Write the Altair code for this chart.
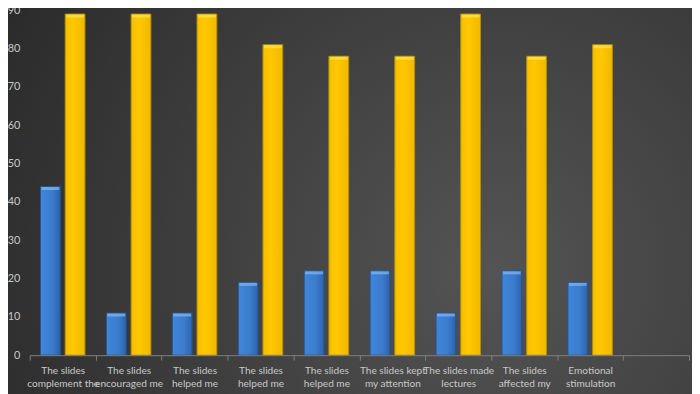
import json
import altair as alt
import pandas as pd

ids = ["1", "2", "3", "4", "5", "6", "7", "8", "9", "10"]
labels = [
    "The slides|complement the",
    "The slides|encouraged me",
    "The slides|helped me",
    "The slides|helped me",
    "The slides|helped me",
    "The slides kept|my attention",
    "The slides made|lectures",
    "The slides|affected my",
    "Emotional|stimulation",
    "",
]
y_ticks = [0, 10, 20, 30, 40, 50, 60, 70, 80, 90]
blue_vals = [44, 11, 11, 19, 22, 22, 11, 22, 19]
yellow_vals = [89, 89, 89, 81, 78, 78, 89, 78, 81]

df = pd.DataFrame({
    "cat": ids[:9],
    "blue": blue_vals,
    "yellow": yellow_vals,
})

ids_js = json.dumps(ids)
labels_js = json.dumps(labels)
label_expr = (
    f"indexof({ids_js}, datum.value) < 0 ? '' : "
    f"split({labels_js}[indexof({ids_js}, datum.value)], '|')"
)

W, H = 667, 349

xaxis = alt.Axis(
    title=None, labelAngle=0, labelExpr=label_expr, tickBand="extent",
    domainColor="#808080", tickColor="#808080", tickSize=5,
    labelColor="#c8c8c8", labelFont="Lato", labelFontSize=10.2,
    labelLineHeight=13, labelPadding=6, grid=False, zindex=2,
    labelOverlap=False, labelBound=False,
)
xscale = alt.Scale(domain=ids, paddingInner=0, paddingOuter=0)
yscale = alt.Scale(domain=[0, 90], nice=False)
yaxis = alt.Axis(
    title=None, values=y_ticks, domain=False, ticks=False, grid=False,
    labelColor="#c8c8c8", labelFont="Lato", labelFontSize=11, labelPadding=10,
    labelOverlap=False, labelBound=False, labelFlush=False, zindex=2,
)


def xenc():
    return alt.X("cat:N", sort=ids, scale=xscale, axis=xaxis)


bg = alt.Chart(df).mark_rect(
    color=alt.RadialGradient(
        gradient="radial", x1=0.7, y1=0.6, x2=0.7, y2=0.6, r1=0, r2=0.8,
        stops=[alt.GradientStop(color="#545454", offset=0),
               alt.GradientStop(color="#2a2a2a", offset=1)],
    )
).encode(
    x=alt.value(-30), x2=alt.value(W + 10), y=alt.value(-10), y2=alt.value(H + 45)
)

blue = alt.Chart(df).mark_bar(
    width=20, xOffset=-12.5, stroke="#24548f", strokeWidth=1,
    color=alt.LinearGradient(
        gradient="linear", x1=0, y1=0, x2=1, y2=0,
        stops=[alt.GradientStop(color="#3f86da", offset=0),
               alt.GradientStop(color="#3b7ccc", offset=0.6),
               alt.GradientStop(color="#2c63ad", offset=1)],
    ),
).encode(x=xenc(), y=alt.Y("blue:Q", scale=yscale, axis=yaxis))

blue_top = alt.Chart(df).mark_tick(
    color="#86b8f2", thickness=3, size=18, xOffset=-12.5, yOffset=2
).encode(x=xenc(), y=alt.Y("blue:Q", scale=yscale, axis=yaxis))

yellow = alt.Chart(df).mark_bar(
    width=20, xOffset=12.5, stroke="#b38f00", strokeWidth=1,
    color=alt.LinearGradient(
        gradient="linear", x1=0, y1=0, x2=1, y2=0,
        stops=[alt.GradientStop(color="#f5bf00", offset=0),
               alt.GradientStop(color="#ffc800", offset=0.4),
               alt.GradientStop(color="#f0b800", offset=1)],
    ),
).encode(x=xenc(), y=alt.Y("yellow:Q", scale=yscale, axis=yaxis))

yellow_top = alt.Chart(df).mark_tick(
    color="#ffe45a", thickness=3, size=18, xOffset=12.5, yOffset=2
).encode(x=xenc(), y=alt.Y("yellow:Q", scale=yscale, axis=yaxis))

chart = alt.layer(bg, blue, blue_top, yellow, yellow_top).properties(
    width=W, height=H,
    autosize=alt.AutoSizeParams(type="none"),
    padding={"left": 22, "top": 0, "right": 3, "bottom": 37},
    background="#333333",
).configure_view(stroke=None).configure_axisY(
    labelOverlap=False, labelBound=False
)

chart.save("out.html", embed_options={"renderer": "svg", "actions": False})
